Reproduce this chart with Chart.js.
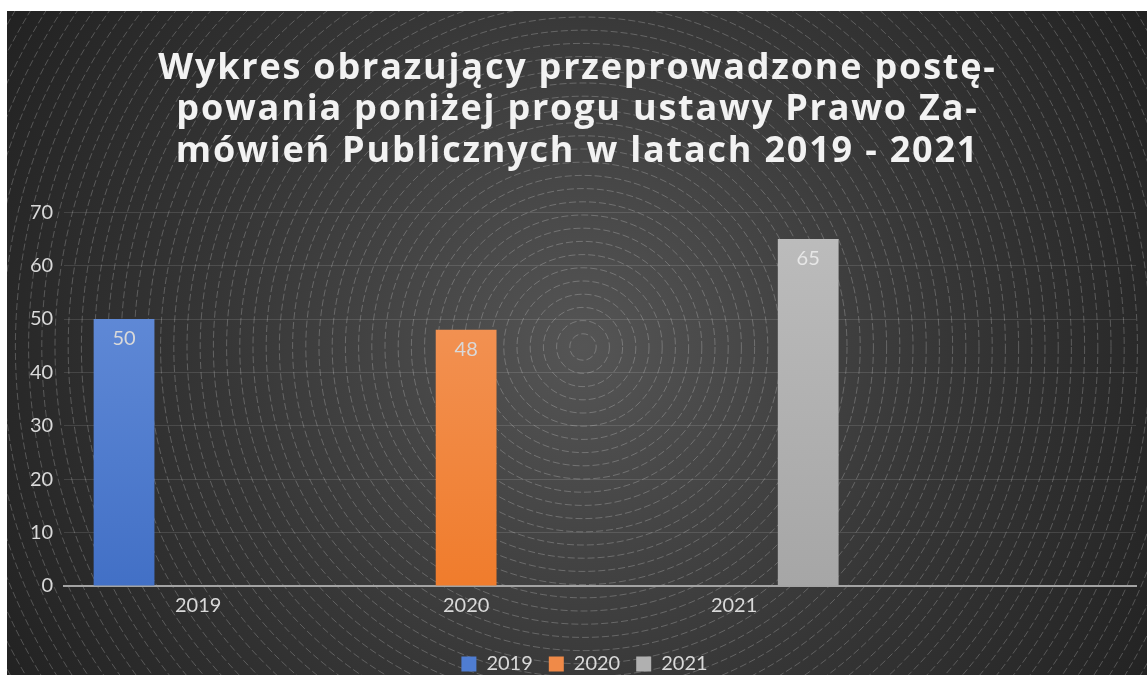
<!DOCTYPE html>
<html>
<head>
<meta charset="utf-8">
<script src="https://cdn.jsdelivr.net/npm/chart.js@4"></script>
<style>
  html, body { margin: 0; padding: 0; background: #ffffff; }
  #wrap { position: absolute; left: 7px; top: 11px; width: 1140px; height: 664px; }
</style>
</head>
<body>
<div id="wrap"><canvas id="chart"></canvas></div>
<script>
// Data
const categories = ['2019', '2020', '2021', ''];
const seriesNames = ['2019', '2020', '2021'];
const values2019 = [50, null, null, null];
const values2020 = [null, 48, null, null];
const values2021 = [null, null, 65, null];
const yTicks = [0, 10, 20, 30, 40, 50, 60, 70];

const titleLines = [
    'Wykres obrazujący przeprowadzone postę-',
    'powania poniżej progu ustawy Prawo Za-',
    'mówień Publicznych w latach 2019 - 2021'
];

// colours: [top of gradient, bottom of gradient, legend swatch]
const blue = ['#6a92dc', '#4270c6', '#4f7dd2'];
const orange = ['#f39a62', '#f07c2c', '#f08a48'];
const gray = ['#bdbdbd', '#a6a6a6', '#b0b0b0'];
const textColor = '#d9d9d9';

const barFill = (c) => (ctx) => {
    const area = ctx.chart.chartArea;
    if (!area) return c[1];
    const g = ctx.chart.ctx.createLinearGradient(0, area.top, 0, area.bottom);
    g.addColorStop(0, c[0]);
    g.addColorStop(1, c[1]);
    return g;
};

// dark radial background with dashed concentric rings
const backdrop = {
    id: 'backdrop',
    beforeDraw(chart) {
        const { ctx, width, height } = chart;
        const cx = 576, cy = 336;
        const rMax = Math.hypot(Math.max(cx, width - cx), Math.max(cy, height - cy));
        ctx.save();
        const g = ctx.createRadialGradient(cx, cy, 0, cx, cy, rMax);
        g.addColorStop(0, '#555555');
        g.addColorStop(0.55, '#363636');
        g.addColorStop(1, '#222222');
        ctx.fillStyle = g;
        ctx.fillRect(0, 0, width, height);
        ctx.strokeStyle = 'rgba(255,255,255,0.22)';
        ctx.lineWidth = 1;
        ctx.setLineDash([7, 3]);
        for (let r = 13.2; r < rMax; r += 13.2) {
            ctx.beginPath();
            ctx.arc(cx, cy, r, 0, Math.PI * 2);
            ctx.stroke();
        }
        ctx.restore();
    }
};

// wider letter spacing for the title only, legend nudged right a little
const tweaks = {
    id: 'tweaks',
    afterInit(chart) {
        const tb = chart.titleBlock;
        if (!tb) return;
        const draw = tb.draw.bind(tb);
        tb.draw = () => {
            chart.ctx.save();
            chart.ctx.letterSpacing = '1.8px';
            draw();
            chart.ctx.restore();
        };
    },
    afterLayout(chart) {
        if (chart.legend) {
            chart.legend.left += 7;
            chart.legend.right += 7;
        }
    }
};

// value labels inside the top of each bar
const valueLabels = {
    id: 'valueLabels',
    afterDatasetsDraw(chart) {
        const { ctx } = chart;
        ctx.save();
        ctx.font = '20px Lato';
        ctx.textAlign = 'center';
        ctx.textBaseline = 'middle';
        chart.data.datasets.forEach((ds, i) => {
            chart.getDatasetMeta(i).data.forEach((bar, j) => {
                if (ds.data[j] == null) return;
                ctx.fillStyle = i === 2 ? '#e6e6e6' : textColor;
                ctx.fillText(ds.data[j], bar.x, bar.y + 20);
            });
        });
        ctx.restore();
    }
};

const swatches = [blue[2], orange[2], gray[2]];

new Chart(document.getElementById('chart'), {
    type: 'bar',
    data: {
        labels: categories,
        datasets: [
            { label: seriesNames[0], data: values2019, backgroundColor: barFill(blue) },
            { label: seriesNames[1], data: values2020, backgroundColor: barFill(orange) },
            { label: seriesNames[2], data: values2021, backgroundColor: barFill(gray) }
        ]
    },
    options: {
        responsive: true,
        maintainAspectRatio: false,
        animation: false,
        categoryPercentage: 0.83,
        barPercentage: 0.82,
        layout: { padding: { left: 12, right: 11, top: 0, bottom: -9 } },
        plugins: {
            title: {
                display: true,
                text: titleLines,
                color: '#f2f2f2',
                font: { family: 'Open Sans', size: 36, weight: 'bold', lineHeight: 1.15 },
                padding: { top: 37, bottom: 40 }
            },
            legend: {
                position: 'bottom',
                labels: {
                    color: textColor,
                    font: { family: 'Lato', size: 20 },
                    boxWidth: 15,
                    boxHeight: 15,
                    padding: 16,
                    generateLabels: (chart) => chart.data.datasets.map((ds, i) => ({
                        text: ds.label,
                        fillStyle: swatches[i],
                        strokeStyle: swatches[i],
                        lineWidth: 0,
                        fontColor: textColor,
                        datasetIndex: i
                    }))
                }
            },
            tooltip: { enabled: false }
        },
        scales: {
            x: {
                grid: { display: false },
                border: { display: true, color: '#a3a3a3', width: 2 },
                ticks: { color: textColor, font: { family: 'Lato', size: 20 }, padding: 0 },
                afterFit: (scale) => { scale.height += 20; }
            },
            y: {
                min: 0,
                max: 70,
                afterBuildTicks: (scale) => { scale.ticks = yTicks.map(v => ({ value: v })); },
                grid: { color: 'rgba(255,255,255,0.12)', lineWidth: 1, drawTicks: false },
                border: { display: false },
                ticks: { color: textColor, font: { family: 'Lato', size: 20 }, padding: 11 }
            }
        }
    },
    plugins: [backdrop, tweaks, valueLabels]
});
</script>
</body>
</html>
